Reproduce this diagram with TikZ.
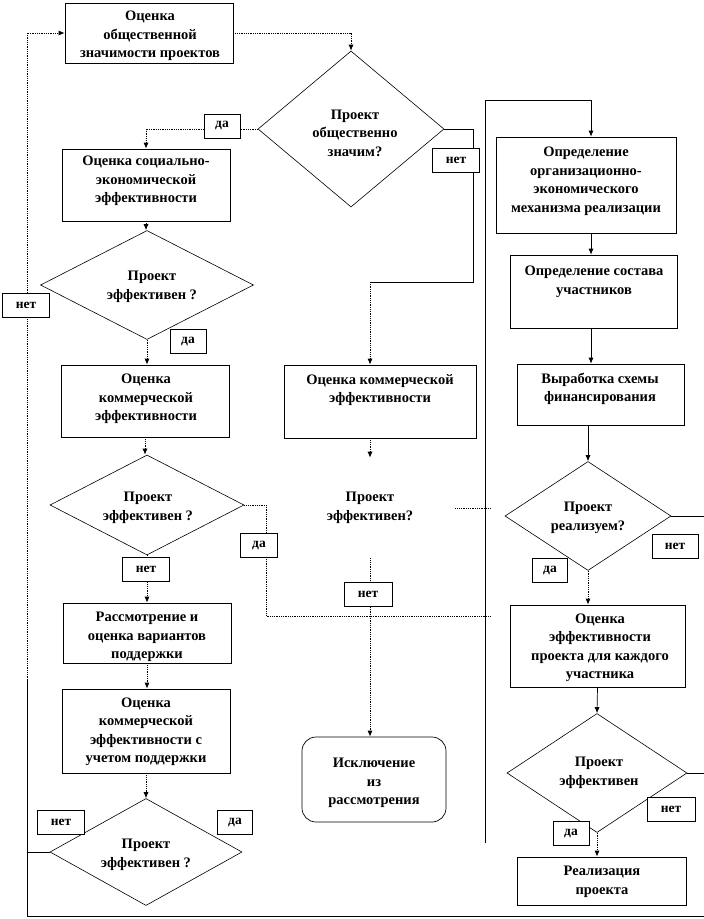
\documentclass[tikz,border=0pt]{standalone}
\usepackage{fontspec}
\setmainfont{Liberation Serif}
\usetikzlibrary{shapes.geometric,arrows.meta}
\begin{document}
\begin{tikzpicture}[x=1pt,y=-1pt,
 box/.style={draw, inner sep=0pt, line width=0.7pt},
 dia/.style={diamond, draw, inner sep=0pt, line width=0.6pt},
 txt/.style={align=center, font=\bfseries\fontsize{14.5}{18.5}\selectfont, inner sep=0pt},
 lbl/.style={draw, fill=white, inner sep=0pt, minimum height=24pt, line width=0.7pt, font=\bfseries\fontsize{13.5}{15}\selectfont},
 con/.style={line width=0.7pt},
 dcon/.style={line width=0.8pt, densely dotted},
 arr/.style={-{Latex[length=6pt,width=5pt]}}]
\useasboundingbox (0,0) rectangle (704,919);
% boxes
\node[box, minimum width=168pt, minimum height=60pt] (A) at (149,33) {};
\node[box, minimum width=168pt, minimum height=72pt] (B) at (146,185) {};
\node[box, minimum width=168pt, minimum height=72pt] (J) at (145,401) {};
\node[box, minimum width=168pt, minimum height=60pt] (K) at (147,633) {};
\node[box, minimum width=168pt, minimum height=84pt] (L) at (146,731) {};
\node[box, minimum width=192pt, minimum height=73pt] (N) at (380,401.5) {};
\node[box, rounded corners=14pt, minimum width=144pt, minimum height=85pt] (O) at (374,779.5) {};
\node[box, minimum width=180pt, minimum height=96pt] (C) at (586,185) {};
\node[box, minimum width=167pt, minimum height=73pt] (D) at (593.5,291.5) {};
\node[box, minimum width=167pt, minimum height=61pt] (E) at (600.5,394.5) {};
\node[box, minimum width=175pt, minimum height=82pt] (G) at (597.5,646) {};
\node[box, minimum width=169pt, minimum height=48pt] (I) at (601.5,881) {};
% diamonds
\node[dia, minimum width=186pt, minimum height=156pt] (d1) at (351,129) {};
\node[dia, minimum width=213pt, minimum height=109pt] (d2) at (147,285) {};
\node[dia, minimum width=194pt, minimum height=100pt] (d3) at (147,505) {};
\node[dia, draw=none, minimum width=170pt, minimum height=100pt] (m) at (370,508) {};
\node[dia, minimum width=166pt, minimum height=109pt] (dF) at (588,516) {};
\node[dia, minimum width=180pt, minimum height=119pt] (dH) at (597,773) {};
\node[dia, minimum width=192pt, minimum height=107pt] (dM) at (146,852) {};
% texts
\node[txt] (tA) at (150,36) {Оценка\\общественной\\значимости проектов};
\node[txt] (tB) at (146,181) {Оценка социально-\\экономической\\эффективности};
\node[txt] (td1) at (355,133) {Проект\\общественно\\значим?};
\node[txt] (td2) at (152,287) {Проект\\эффективен ?};
\node[txt] (tJ) at (146,399) {Оценка\\коммерческой\\эффективности};
\node[txt] (td3) at (148,508) {Проект\\эффективен ?};
\node[txt] (tK) at (147,637) {Рассмотрение и\\оценка вариантов\\поддержки};
\node[txt] (tL) at (146,732) {Оценка\\коммерческой\\эффективности с\\учетом поддержки};
\node[txt] (tdM) at (146,855) {Проект\\эффективен ?};
\node[txt] (tN) at (380,390) {Оценка коммерческой\\эффективности};
\node[txt] (tm) at (370,508) {Проект\\эффективен?};
\node[txt] (tO) at (374,783) {Исключение\\из\\рассмотрения};
\node[txt] (tC) at (586,181) {Определение\\организационно-\\экономического\\механизма реализации};
\node[txt] (tD) at (594,282) {Определение состава\\участников};
\node[txt] (tE) at (600,389) {Выработка схемы\\финансирования};
\node[txt] (tdF) at (588,518) {Проект\\реализуем?};
\node[txt] (tG) at (600,648) {Оценка\\эффективности\\проекта для каждого\\участника};
\node[txt] (tdH) at (599,773) {Проект\\эффективен};
\node[txt] (tI) at (602,882) {Реализация\\проекта};
% connectors
\draw[dcon,arr] (A.east) -| (d1.north);
\draw[dcon,arr] (d1.west) -| (B.north);
\coordinate (c1) at (473,282);
\coordinate (c2) at (370,282);
\draw[con] (d1.east) -| (c1) -- (c2);
\draw[dcon,arr] (c2) -- (c2 |- N.north);
\coordinate (r1) at (485,100);
\coordinate (r2) at (485,843);
\draw[con,arr] (r2) -- (r1) -| ([xshift=5pt]C.north);
\draw[con,arr] ([xshift=5pt]C.south) -- ([xshift=-2.5pt]D.north);
\draw[con,arr] ([xshift=-2.5pt]D.south) -- ([xshift=-9.5pt]E.north);
\draw[con,arr] ([xshift=-12.5pt]E.south) -- (dF.north);
\coordinate (e1) at (704,516);
\draw[con] (dF.east) -- (e1);
\draw[dcon,arr] (dF.south) -- (dF.south |- G.north);
\draw[con,arr] (G.south) -- (dH.north);
\coordinate (e2) at (704,773);
\draw[con] (dH.east) -- (e2);
\draw[dcon,arr] (dH.south) -- (dH.south |- I.north);
\coordinate (lb) at (27,916);
\coordinate (rb) at (704,916);
\coordinate (lm) at (27,680);
\draw[con] (rb) -- (lb) -- (lm);
\draw[dcon,arr] (lm) |- (A.west);
\draw[con] (dM.west) -- (dM.west -| lb);
\draw[dcon,arr] (B.south) -- (B.south |- d2.north);
\draw[dcon,arr] (d2.south) -- (d2.south |- J.north);
\draw[dcon,arr] (J.south) -- (J.south |- d3.north);
\draw[dcon,arr] (d3.south) -- (d3.south |- K.north);
\draw[dcon,arr] (K.south) -- (K.south |- L.north);
\draw[dcon,arr] (L.south) -- (L.south |- dM.north);
\coordinate (c3) at (266,616);
\coordinate (c4) at (490,616);
\draw[dcon] (d3.east) -| (c3) -- (c4);
\draw[dcon,arr] ([xshift=-10pt]N.south) -- (m.north);
\coordinate (c5) at (490,508);
\draw[dcon] (m.east) -- (c5);
\draw[dcon,arr] (m.south) -- (m.south |- O.north);
% labels
\node[lbl, minimum width=36pt] (L1) at (222,126) {да};
\node[lbl, minimum width=47pt] (L2) at (456,160) {нет};
\node[lbl, minimum width=47pt] (L3) at (26,305) {нет};
\node[lbl, minimum width=36pt] (L4) at (188,341) {да};
\node[lbl, minimum width=37pt] (L5) at (259,545) {да};
\node[lbl, minimum width=47pt] (L6) at (146,569) {нет};
\node[lbl, minimum width=48pt] (L7) at (368,594) {нет};
\node[lbl, minimum width=46pt] (L8) at (675,546) {нет};
\node[lbl, minimum width=35pt] (L9) at (550,570) {да};
\node[lbl, minimum width=48pt] (L10) at (671,809) {нет};
\node[lbl, minimum width=36pt] (L11) at (571,833) {да};
\node[lbl, minimum width=47pt] (L12) at (61,822) {нет};
\node[lbl, minimum width=35pt] (L13) at (235,822) {да};
\end{tikzpicture}
\end{document}
